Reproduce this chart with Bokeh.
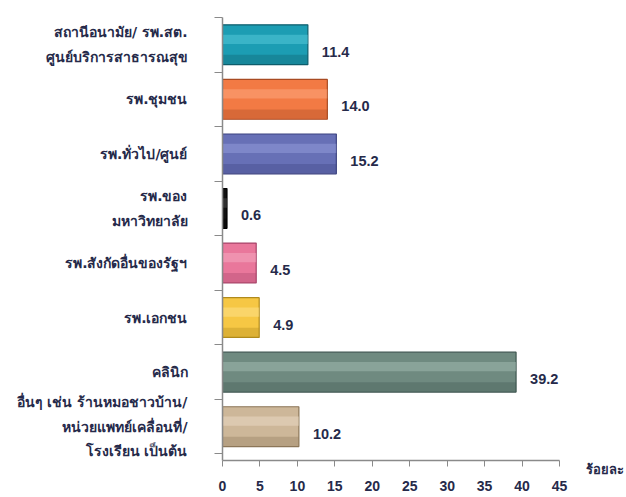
from bokeh.plotting import figure
from bokeh.models import ColumnDataSource, Range1d, FixedTicker, LinearAxis
from bokeh.core.properties import value
from bokeh.embed import file_html
from bokeh.resources import INLINE

categories = [
    "สถานีอนามัย/ รพ.สต.\nศูนย์บริการสาธารณสุข",
    "รพ.ชุมชน",
    "รพ.ทั่วไป/ศูนย์",
    "รพ.ของ\nมหาวิทยาลัย",
    "รพ.สังกัดอื่นของรัฐฯ",
    "รพ.เอกชน",
    "คลินิก",
    "อื่นๆ เช่น ร้านหมอชาวบ้าน/\nหน่วยแพทย์เคลื่อนที่/\nโรงเรียน เป็นต้น",
]
values = [11.4, 14.0, 15.2, 0.6, 4.5, 4.9, 39.2, 10.2]
value_labels = ["11.4", "14.0", "15.2", "0.6", "4.5", "4.9", "39.2", "10.2"]
colors = ["#1C9DB3", "#F27A44", "#6770B6", "#111111", "#E9779B", "#F6C744", "#6F8A80", "#CDB799"]
edges = ["#0E5E6C", "#A84A22", "#3C4380", "#000000", "#A8446A", "#B08A1C", "#3F5650", "#8C7658"]
highlights = ["#5FD0E0", "#FFB08A", "#9CA3E0", "#555555", "#F7B3C8", "#FFE79A", "#A9C2B9", "#EFE0CC"]
x_ticks = [0, 5, 10, 15, 20, 25, 30, 35, 40, 45]
x_title = "ร้อยละ"

n = len(categories)
ypos = [n - 1 - i for i in range(n)]
hi_pos = [y + 0.1 for y in ypos]
sh_pos = [y - 0.27 for y in ypos]
y_bottom = -0.62

FONT = "Liberation Sans"
YFONT = "DejaVu Sans"
TXT = "#262A4A"

src = ColumnDataSource(dict(y=ypos, yh=hi_pos, ys=sh_pos, val=values, lab=value_labels,
                            col=colors, edge=edges, hi=highlights))

p = figure(width=626, height=496, output_backend="svg", toolbar_location=None,
           y_range=Range1d(y_bottom, n - 0.5), x_range=Range1d(0, 45),
           min_border_left=222, min_border_right=65, min_border_top=17, min_border_bottom=36)

p.hbar(y="y", right="val", left=0, height=0.73, source=src,
       fill_color="col", line_color="edge", line_width=1.2)
p.hbar(y="yh", right="val", left=0, height=0.17, source=src,
       fill_color="hi", fill_alpha=0.45, line_color=None)
p.hbar(y="ys", right="val", left=0, height=0.17, source=src,
       fill_color="edge", fill_alpha=0.35, line_color=None)

p.text(x="val", y="y", text="lab", source=src, x_offset=14, y_offset=7,
       text_align="left", text_baseline="middle", text_font=value(FONT),
       text_font_size="14.5px", text_font_style="bold", text_color=TXT)

p.xgrid.grid_line_color = None
p.ygrid.grid_line_color = None
p.outline_line_color = None

p.xaxis.ticker = FixedTicker(ticks=x_ticks)
p.xaxis.axis_line_color = "#8A8A8A"
p.xaxis.axis_line_width = 1.5
p.xaxis.major_tick_line_color = "#8A8A8A"
p.xaxis.major_tick_out = 6
p.xaxis.major_tick_in = 0
p.xaxis.minor_tick_line_color = None
p.xaxis.major_label_text_font = FONT
p.xaxis.major_label_text_font_size = "14px"
p.xaxis.major_label_text_font_style = "bold"
p.xaxis.major_label_text_color = TXT
p.xaxis.major_label_standoff = 14

boundaries = [y + 0.5 for y in ypos] + [-0.5]
p.yaxis.ticker = FixedTicker(ticks=ypos, minor_ticks=boundaries)
p.yaxis.major_label_overrides = {y: c for y, c in zip(ypos, categories)}
p.yaxis.axis_line_color = "#8A8A8A"
p.yaxis.axis_line_width = 1.5
p.yaxis.major_tick_line_color = None
p.yaxis.minor_tick_line_color = "#8A8A8A"
p.yaxis.minor_tick_out = 8
p.yaxis.minor_tick_in = 0
p.yaxis.major_label_text_font = YFONT
p.yaxis.major_label_text_font_size = "14px"
p.yaxis.major_label_text_font_style = "bold"
p.yaxis.major_label_text_color = TXT
p.yaxis.major_label_standoff = 27
p.yaxis.major_label_text_line_height = 1.55

# unit title placed at the right end of the x axis via a tick-less right axis
title_tick = y_bottom + 0.02
unit_axis = LinearAxis(ticker=FixedTicker(ticks=[title_tick], minor_ticks=[]),
                       major_label_overrides={title_tick: "\n" + x_title})
unit_axis.axis_line_color = None
unit_axis.major_tick_line_color = None
unit_axis.minor_tick_line_color = None
unit_axis.major_tick_out = 0
unit_axis.major_label_standoff = 26
unit_axis.major_label_text_font = YFONT
unit_axis.major_label_text_font_size = "13px"
unit_axis.major_label_text_font_style = "bold"
unit_axis.major_label_text_color = TXT
unit_axis.major_label_text_line_height = 1.3
p.add_layout(unit_axis, "right")

open("out.html", "w").write(file_html(p, INLINE))
